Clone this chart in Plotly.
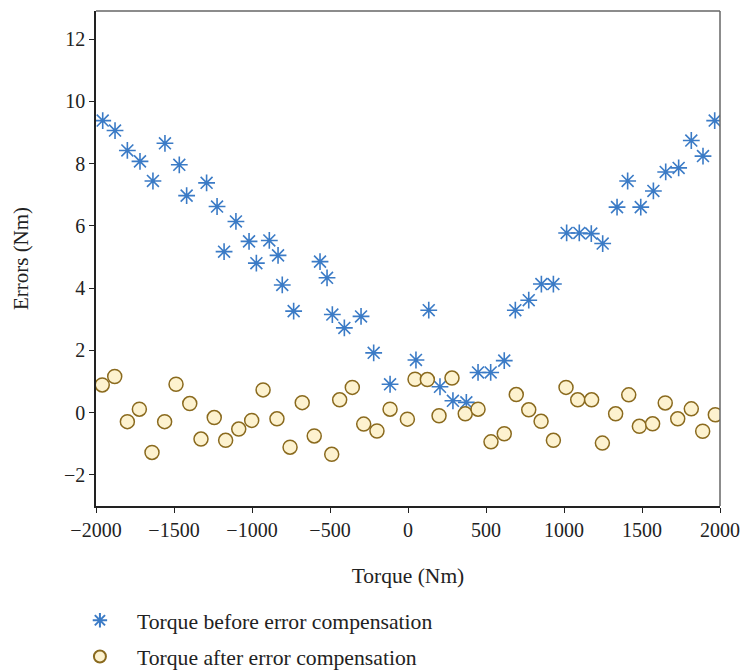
import plotly.graph_objects as go

before_x = [-1957, -1878, -1799, -1718, -1635, -1558, -1466, -1419, -1291, -1224,
            -1179, -1103, -1019, -972, -889, -833, -806, -733, -564, -519,
            -485, -408, -301, -220, -115, 51, 133, 205, 288, 374,
            449, 530, 617, 688, 774, 855, 932, 1017, 1098, 1175,
            1248, 1340, 1408, 1492, 1573, 1652, 1735, 1816, 1891, 1966]
before_y = [9.38, 9.06, 8.42, 8.07, 7.44, 8.65, 7.96, 6.97, 7.38, 6.62,
            5.17, 6.14, 5.50, 4.80, 5.53, 5.05, 4.10, 3.26, 4.85, 4.33,
            3.15, 2.72, 3.09, 1.92, 0.91, 1.69, 3.29, 0.83, 0.38, 0.33,
            1.29, 1.29, 1.67, 3.29, 3.61, 4.13, 4.13, 5.77, 5.77, 5.75,
            5.43, 6.60, 7.44, 6.60, 7.12, 7.73, 7.86, 8.74, 8.24, 9.38]

after_x = [-1960, -1880, -1799, -1722, -1641, -1560, -1487, -1399, -1327, -1242,
           -1169, -1085, -1002, -929, -840, -756, -678, -601, -489, -438,
           -357, -284, -199, -115, -4, 45, 124, 199, 282, 367,
           449, 532, 617, 694, 774, 853, 932, 1013, 1088, 1177,
           1246, 1331, 1415, 1483, 1568, 1649, 1729, 1816, 1889, 1970]
after_y = [0.89, 1.16, -0.29, 0.11, -1.28, -0.29, 0.91, 0.29, -0.85, -0.16,
           -0.89, -0.53, -0.25, 0.73, -0.20, -1.11, 0.32, -0.75, -1.34, 0.41,
           0.81, -0.37, -0.59, 0.11, -0.21, 1.07, 1.06, -0.10, 1.11, -0.04,
           0.11, -0.94, -0.68, 0.58, 0.09, -0.28, -0.89, 0.81, 0.41, 0.41,
           -0.98, -0.04, 0.57, -0.44, -0.36, 0.31, -0.20, 0.12, -0.60, -0.07]

x_ticks = [-2000, -1500, -1000, -500, 0, 500, 1000, 1500, 2000]
y_ticks = [-2, 0, 2, 4, 6, 8, 10, 12]

FONT = "Liberation Serif"

fig = go.Figure()
fig.add_trace(go.Scatter(
    x=before_x, y=before_y, mode="markers",
    name="Torque before error compensation", legendgroup="a",
    marker=dict(symbol="asterisk-open", size=14,
                line=dict(color="#3b7bc6", width=1.6), color="#3b7bc6"),
))
fig.add_trace(go.Scatter(
    x=after_x, y=after_y, mode="markers",
    name="Torque after error compensation", legendgroup="b",
    marker=dict(symbol="circle", size=14, color="#fdf2cf",
                line=dict(color="#8a6a1e", width=1.5)),
))

fig.update_layout(
    width=743, height=670,
    margin=dict(l=96, r=23, t=11, b=164, autoexpand=False),
    plot_bgcolor="white", paper_bgcolor="white",
    font=dict(family=FONT, size=20, color="#222222"),
    showlegend=True,
    legend=dict(x=-0.053, xref="paper", y=0.105, yref="container",
                xanchor="left", yanchor="top",
                font=dict(family=FONT, size=21.7, color="#222222"),
                tracegroupgap=5, itemsizing="constant", itemwidth=64),
    xaxis=dict(range=[-2000, 2000], tickvals=x_ticks, ticks="outside",
               ticklen=5, tickcolor="#222", showline=True, linecolor="#222",
               linewidth=1.5, mirror=False, showgrid=False, zeroline=False,
               title=dict(text="Torque (Nm)", standoff=28,
                          font=dict(family=FONT, size=21.5)),
               tickfont=dict(family=FONT, size=20)),
    yaxis=dict(range=[-3, 12.9], tickvals=y_ticks, ticks="outside",
               ticklen=5, tickcolor="#222", showline=True, linecolor="#222",
               linewidth=1.5, showgrid=False, zeroline=False,
               title=dict(text="Errors (Nm)", standoff=30,
                          font=dict(family=FONT, size=21)),
               tickfont=dict(family=FONT, size=20)),
)

# top and right frame in grey
fig.add_shape(type="line", xref="paper", yref="paper", x0=0, x1=1, y0=1, y1=1,
              line=dict(color="#666666", width=1.5))
fig.add_shape(type="line", xref="paper", yref="paper", x0=1, x1=1, y0=0, y1=1,
              line=dict(color="#666666", width=1.5))

fig.write_html("out.html", config={"displayModeBar": False},
               post_script="document.body.style.margin='0';")
